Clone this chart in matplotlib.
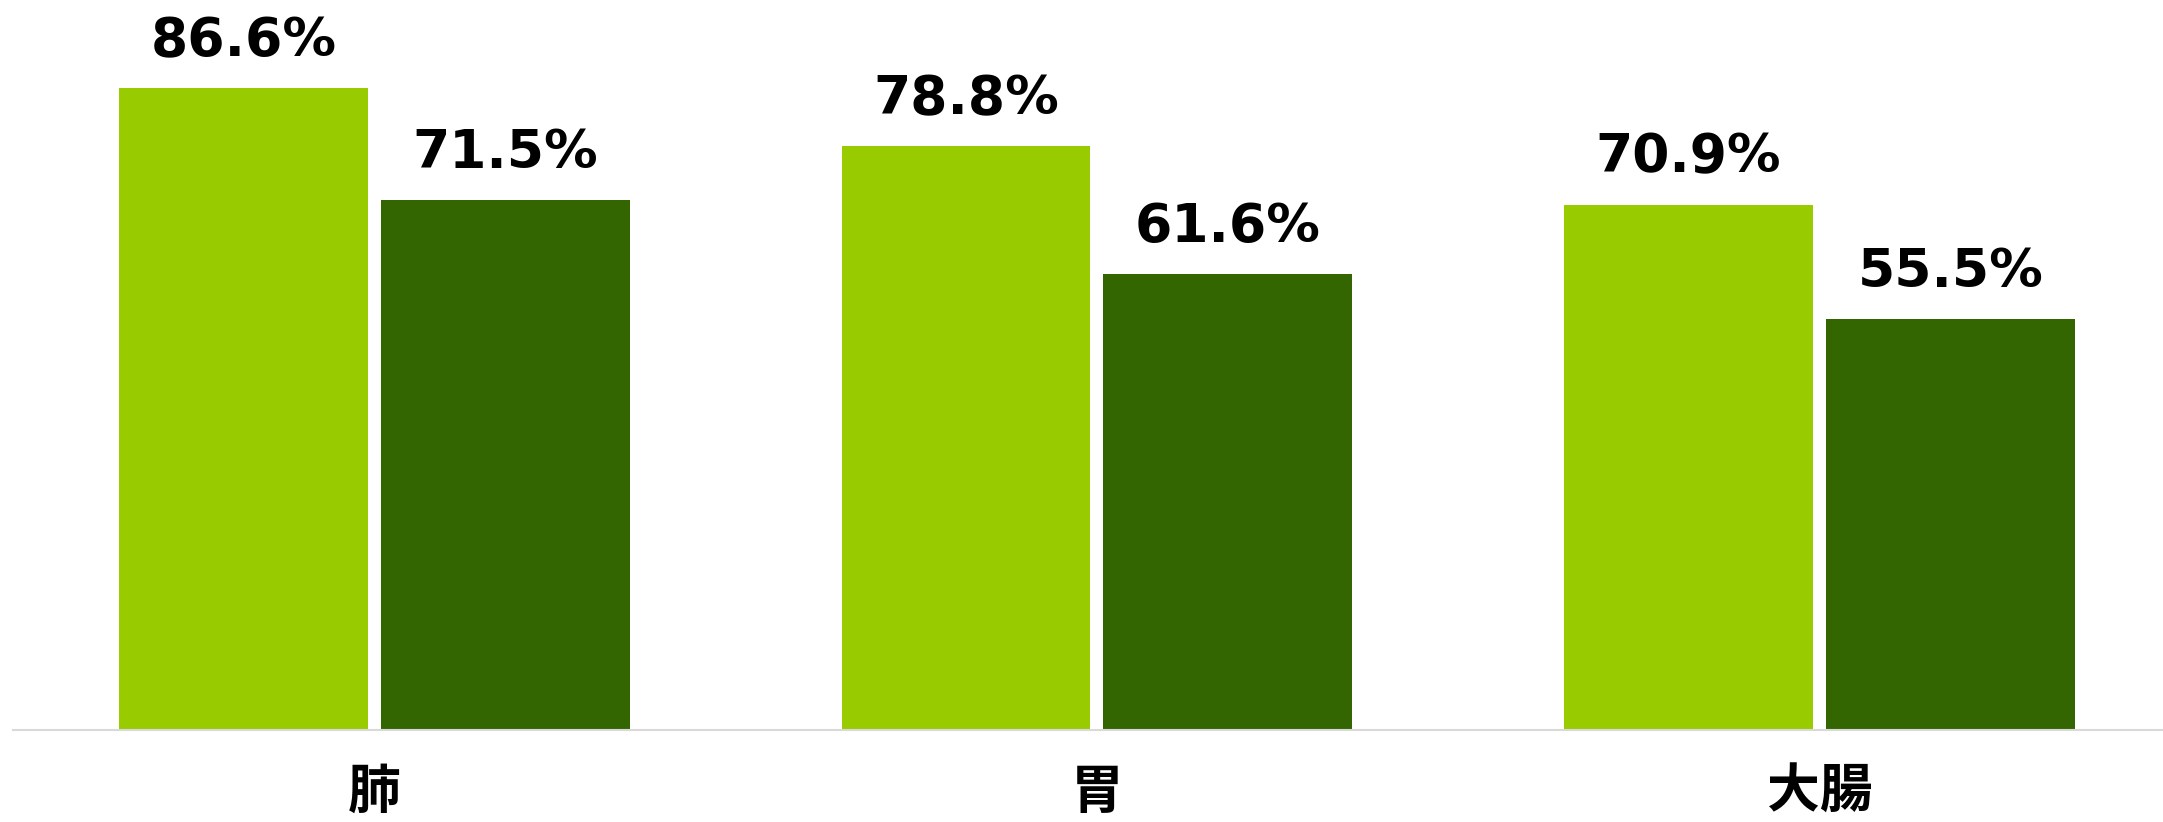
#!/usr/bin/env python
# coding=utf-8
"""
Grouped bar chart: two rates per cancer site
"""

import numpy as np
import matplotlib
matplotlib.use('Agg')
import matplotlib.pyplot as plt

categories = ['肺', '胃', '大腸']
series_a = [86.6, 78.8, 70.9]
series_b = [71.5, 61.6, 55.5]

color_a = '#99CC00'
color_b = '#336600'

fig = plt.figure(figsize=(21.63, 8.22), dpi=100)
ax = fig.add_axes([13 / 2163, 92 / 822, 1 - 13 / 2163, 730 / 822])

x = np.arange(len(categories))
w = 0.3446
off = 0.1813

bars_a = ax.bar(x - off, series_a, width=w, color=color_a)
bars_b = ax.bar(x + off, series_b, width=w, color=color_b)

for bars in (bars_a, bars_b):
    for b in bars:
        ax.annotate('%.1f%%' % b.get_height(),
                    xy=(b.get_x() + b.get_width() / 2, b.get_height()),
                    xytext=(0, 23), textcoords='offset points',
                    ha='center', va='baseline',
                    fontsize=38.5, fontweight='bold', color='black',
                    family='DejaVu Sans')

ax.set_xlim(-0.5003, 2.4754)
ax.set_ylim(0, 730 / 7.41)

ax.set_xticks(x)
ax.set_xticklabels(categories, fontsize=38, fontweight='bold',
                   family=['Noto Sans CJK JP', 'DejaVu Sans'])
ax.tick_params(axis='x', length=0, pad=26)
ax.set_yticks([])

for s in ('top', 'left', 'right'):
    ax.spines[s].set_visible(False)
ax.spines['bottom'].set_color('#d9d9d9')
ax.spines['bottom'].set_linewidth(1.5)

fig.savefig('out.png', dpi=100)
plt.close()
